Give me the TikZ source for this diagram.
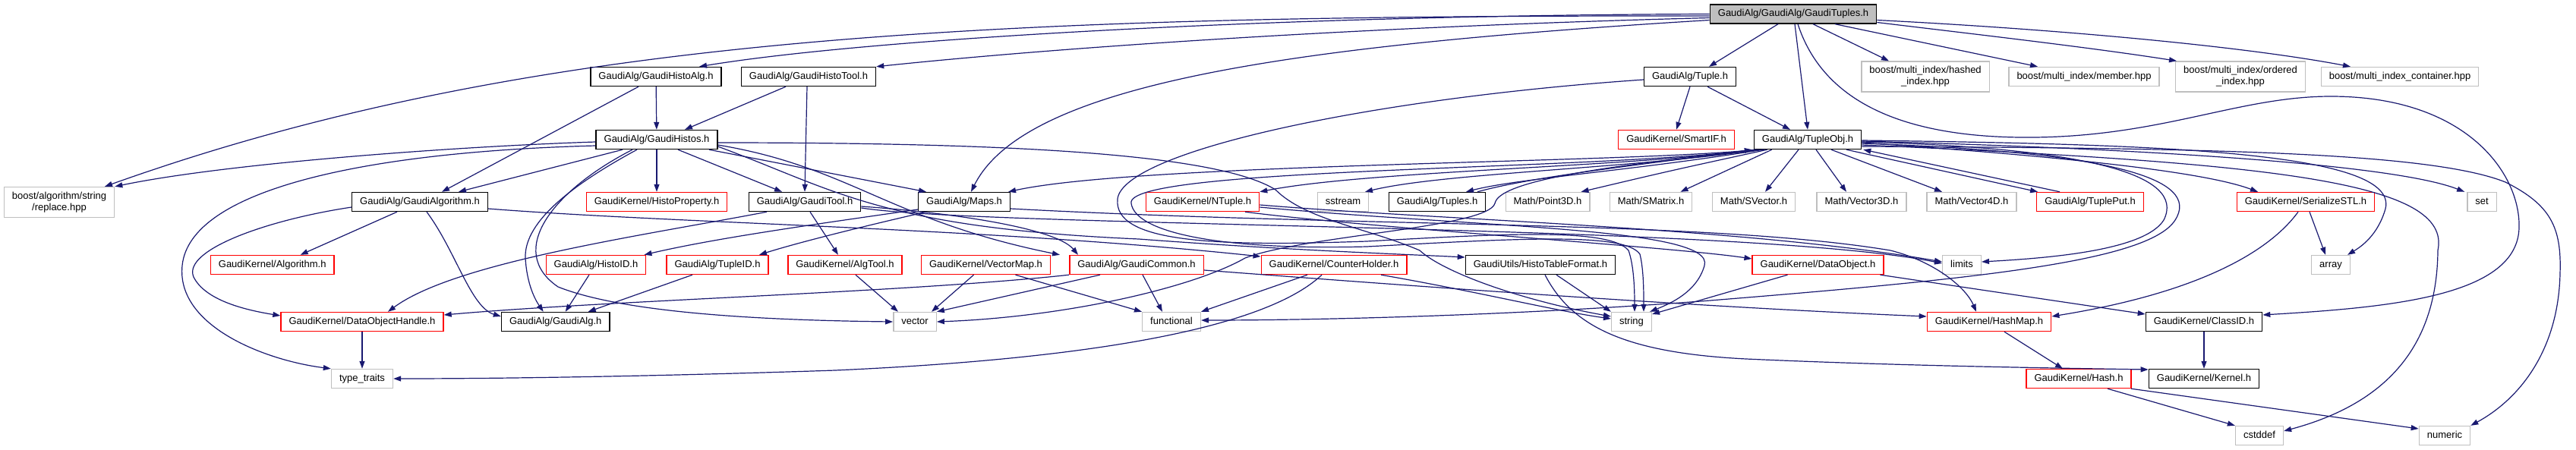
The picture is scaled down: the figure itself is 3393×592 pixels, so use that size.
\documentclass[tikz,border=0pt]{standalone}
\usepackage{fontspec}
\setmainfont{Liberation Sans}
\usetikzlibrary{arrows.meta}

\definecolor{depblue}{RGB}{25,25,112}
\definecolor{truncred}{RGB}{255,0,0}
\definecolor{sysgray}{RGB}{191,191,191}

\begin{document}
\begin{tikzpicture}[x=1pt, y=-1pt, >={Triangle[length=10pt,width=7pt]},
  hdr/.style={draw=black, line width=1.4pt, rectangle, minimum height=25pt, inner xsep=10.5pt, inner ysep=0pt,
    font=\fontsize{13}{15}\selectfont},
  file/.style={hdr, text height=9.4pt, text depth=2.8pt},
  file2/.style={hdr, align=center, minimum height=40pt},
  sys/.style={draw=sysgray},
  trunc/.style={draw=truncred},
  dep/.style={->, draw=depblue, line width=1.2pt}]

\useasboundingbox (0,0) rectangle (3393,592);

% headers
\node[file, fill=sysgray] (gauditup) at (2362,18.5) {GaudiAlg/GaudiAlg/GaudiTuples.h};

\node[file] (histoalg) at (864,101) {GaudiAlg/GaudiHistoAlg.h};
\node[file] (histotool) at (1065,101) {GaudiAlg/GaudiHistoTool.h};
\node[file] (tuple) at (2226,101) {GaudiAlg/Tuple.h};
\node[file2, sys] (hashed) at (2536,101) {boost/multi\_index/hashed\\\_index.hpp};
\node[file, sys] (member) at (2745,101) {boost/multi\_index/member.hpp};
\node[file2, sys] (ordered) at (2951,101) {boost/multi\_index/ordered\\\_index.hpp};
\node[file, sys] (container) at (3161,101) {boost/multi\_index\_container.hpp};

\node[file] (histos) at (865,184) {GaudiAlg/GaudiHistos.h};
\node[file, trunc] (smartif) at (2208,184) {GaudiKernel/SmartIF.h};
\node[file] (tupleobj) at (2381,184) {GaudiAlg/TupleObj.h};

\node[file2, sys] (replace) at (78,266.5) {boost/algorithm/string\\/replace.hpp};
\node[file] (gaudialgo) at (553,266) {GaudiAlg/GaudiAlgorithm.h};
\node[file, trunc] (histoprop) at (865,266) {GaudiKernel/HistoProperty.h};
\node[file] (gauditool) at (1060,266) {GaudiAlg/GaudiTool.h};
\node[file] (maps) at (1270,266) {GaudiAlg/Maps.h};
\node[file, trunc] (ntuple) at (1584,266) {GaudiKernel/NTuple.h};
\node[file, sys] (sstream) at (1769,266) {sstream};
\node[file] (tuples) at (1893,266) {GaudiAlg/Tuples.h};
\node[file, sys] (point3d) at (2038.5,266) {Math/Point3D.h};
\node[file, sys] (smatrix) at (2174.5,266) {Math/SMatrix.h};
\node[file, sys] (svector) at (2310,266) {Math/SVector.h};
\node[file, sys] (vector3d) at (2452,266) {Math/Vector3D.h};
\node[file, sys] (vector4d) at (2597,266) {Math/Vector4D.h};
\node[file, trunc] (tupleput) at (2753,266) {GaudiAlg/TuplePut.h};
\node[file, trunc] (serialize) at (3037,266) {GaudiKernel/SerializeSTL.h};
\node[file, sys] (stdset) at (3269,266) {set};

\node[file, trunc] (algorithm) at (358.7,349) {GaudiKernel/Algorithm.h};
\node[file, trunc] (histoid) at (785,349) {GaudiAlg/HistoID.h};
\node[file, trunc] (tupleid) at (945,349) {GaudiAlg/TupleID.h};
\node[file, trunc] (algtool) at (1113,349) {GaudiKernel/AlgTool.h};
\node[file, trunc] (vectormap) at (1298.5,349) {GaudiKernel/VectorMap.h};
\node[file, trunc] (common) at (1497,349) {GaudiAlg/GaudiCommon.h};
\node[file, trunc] (counter) at (1757,349) {GaudiKernel/CounterHolder.h};
\node[file] (tableformat) at (2029,349) {GaudiUtils/HistoTableFormat.h};
\node[file, trunc] (dataobject) at (2394.5,349) {GaudiKernel/DataObject.h};
\node[file, sys] (limits) at (2584,349) {limits};
\node[file, sys] (array) at (3070,349) {array};

\node[file, trunc] (handle) at (477,424) {GaudiKernel/DataObjectHandle.h};
\node[file] (gaudialg) at (731.7,424) {GaudiAlg/GaudiAlg.h};
\node[file, sys] (vector) at (1205,424) {vector};
\node[file, sys] (functional) at (1543,424) {functional};
\node[file, sys] (string) at (2149,424) {string};
\node[file, trunc] (hashmap) at (2620,424) {GaudiKernel/HashMap.h};
\node[file] (classid) at (2903,424) {GaudiKernel/ClassID.h};

\node[file, sys] (typetraits) at (477,499) {type\_traits};
\node[file, trunc] (hash) at (2738,499) {GaudiKernel/Hash.h};
\node[file] (kernel) at (2903,499) {GaudiKernel/Kernel.h};

\node[file, sys] (cstddef) at (2976,574) {cstddef};
\node[file, sys] (numeric) at (3220,574) {numeric};

% GaudiTuples.h
\draw[dep] ([yshift=-2.5pt]gauditup.west) .. controls (1300,20) and (700,45) .. ([xshift=60pt]replace.north);
\draw[dep] (gauditup.west) .. controls (1700,20) and (1150,50) .. ([xshift=57pt]histoalg.north);
\draw[dep] ([yshift=-5pt]gauditup.west) .. controls (1800,35) and (1400,62) .. (histotool.north east);
\draw[dep] ([yshift=-8pt]gauditup.west) .. controls (1700,60) and (1350,110) .. ([xshift=9pt]maps.north);
\draw[dep] ([xshift=-20pt]gauditup.south) -- ([xshift=25pt]tuple.north);
\draw[dep] ([xshift=2pt]gauditup.south) -- (tupleobj.north);
\draw[dep] ([xshift=26pt]gauditup.south) -- ([xshift=-48pt]hashed.north);
\draw[dep] ([xshift=55pt]gauditup.south) -- ([xshift=-61pt]member.north);
\draw[dep] ([yshift=-11pt]gauditup.east) .. controls (2600,45) and (2750,62) .. ([xshift=2pt]ordered.north west);
\draw[dep] ([yshift=-8pt]gauditup.east) .. controls (2700,38) and (2950,60) .. ([xshift=-65pt]container.north);
\draw[dep] ([xshift=6pt]gauditup.south) .. controls (2400,130) and (2500,183) .. (2680,181)
  .. controls (2850,179) and (2950,127) .. (3070,127) .. controls (3250,127) and (3320,230) .. (3318,300)
  .. controls (3316,390) and (3150,405) .. ([yshift=9pt]classid.east);

% histo algorithm and tool
\draw[dep] ([xshift=-23pt]histoalg.south) -- ([xshift=29pt]gaudialgo.north);
\draw[dep] (histoalg) -- (histos);
\draw[dep] ([xshift=-30pt]histotool.south) -- ([xshift=37pt]histos.north);
\draw[dep] ([xshift=-2pt]histotool.south) -- (gauditool.north);

% Tuple.h
\draw[dep] (tuple.south) -- (smartif.north);
\draw[dep] ([xshift=23pt]tuple.south) -- ([xshift=-23pt]tupleobj.north);
\draw[dep] ([yshift=-4pt]tuple.west) .. controls (1800,130) and (1480,200) .. (1472,262)
  .. controls (1466,320) and (1600,325) .. (1800,318) .. controls (1980,308) and (2120,300) .. (2145,330)
  .. controls (2152,350) and (2153,380) .. ([xshift=4pt]string.north);

% TupleObj.h
\draw[dep] ([xshift=3pt]tupleobj.south west) .. controls (2150,215) and (1500,215) .. ([xshift=-3pt]maps.north east);
\draw[dep] ([xshift=5pt]tupleobj.south west) .. controls (2150,220) and (1800,225) .. (ntuple.north east);
\draw[dep] ([xshift=8pt]tupleobj.south west) .. controls (2150,222) and (1900,228) .. ([xshift=29pt]sstream.north);
\draw[dep] ([xshift=12pt]tupleobj.south west) .. controls (2150,225) and (2000,235) .. ([xshift=38pt]tuples.north);
\draw[dep] ([xshift=53pt]tuples.north) .. controls (2020,232) and (2180,215) .. ([xshift=-2pt]tupleobj.south west);
\draw[dep] ([xshift=18pt]tupleobj.south west) .. controls (2200,225) .. ([xshift=44pt]point3d.north);
\draw[dep] ([xshift=24pt]tupleobj.south west) -- ([xshift=39pt]smatrix.north);
\draw[dep] ([xshift=-12pt]tupleobj.south) -- ([xshift=15pt]svector.north);
\draw[dep] ([xshift=11pt]tupleobj.south) -- ([xshift=-20pt]vector3d.north);
\draw[dep] ([xshift=31pt]tupleobj.south) -- ([xshift=-39pt]vector4d.north);
\draw[dep] ([xshift=51pt]tupleobj.south) -- ([xshift=2pt]tupleput.north west);
\draw[dep] ([xshift=-40pt]tupleput.north) -- ([xshift=2pt]tupleobj.south east);
\draw[dep] ([yshift=-4pt]tupleobj.east) .. controls (2700,205) and (2900,225) .. ([xshift=-63pt]serialize.north);
\draw[dep] ([yshift=-2pt]tupleobj.east) .. controls (2800,195) and (3150,215) .. ([xshift=-3pt]stdset.north west);
\draw[dep] ([yshift=-1pt]tupleobj.east) .. controls (2850,190) and (3160,200) .. (3142,275)
  .. controls (3132,310) and (3110,325) .. ([xshift=22pt]array.north);
\draw[dep] ([yshift=-3pt]tupleobj.east) .. controls (2750,195) and (2880,230) .. (2850,290)
  .. controls (2825,330) and (2700,340) .. ([yshift=4pt]limits.east);
\draw[dep] ([yshift=-5pt]tupleobj.east) .. controls (2780,200) and (2900,235) .. (2865,290)
  .. controls (2830,345) and (2600,368) .. (2240,397) .. controls (2000,415) and (1750,422) .. ([yshift=2pt]functional.east);
\draw[dep] ([yshift=-7pt]tupleobj.east) .. controls (3000,215) and (3230,240) .. (3211,330)
  .. controls (3210,450) and (3150,530) .. ([yshift=6pt]cstddef.east);
\draw[dep] ([yshift=-9pt]tupleobj.east) .. controls (2900,195) and (3200,200) .. (3300,240)
  .. controls (3360,270) and (3374,300) .. (3372,360) .. controls (3370,460) and (3320,525) .. (numeric.north east);
\draw[dep] ([xshift=2pt]tupleobj.south west) .. controls (2100,225) and (1480,220) .. (1490,268)
  .. controls (1495,305) and (1600,330) .. (1800,325) .. controls (1990,315) and (2140,305) .. (2160,335)
  .. controls (2165,355) and (2165,385) .. ([xshift=16pt]string.north);
\draw[dep] ([xshift=14pt]tupleobj.south west) .. controls (2150,215) and (1975,235) .. (1969,268)
  .. controls (1960,300) and (1720,310) .. (1640,340) .. controls (1570,380) and (1400,418) .. (vector.east);

% GaudiHistos.h
\draw[dep] ([yshift=-3pt]histos.west) .. controls (600,193) and (300,215) .. (replace.north east);
\draw[dep] ([xshift=-45pt]histos.south) -- ([xshift=51pt]gaudialgo.north);
\draw[dep] (histos) -- (histoprop);
\draw[dep] ([xshift=28pt]histos.south) -- ([xshift=-30pt]gauditool.north);
\draw[dep] ([xshift=69pt]histos.south) -- ([xshift=-50pt]maps.north);
\draw[dep] ([yshift=-8pt]histos.west) .. controls (480,200) and (250,250) .. (240,350)
  .. controls (232,430) and (350,475) .. (typetraits.north west);
\draw[dep] ([xshift=-26pt]histos.south) .. controls (760,240) and (690,290) .. (692,340)
  .. controls (694,375) and (705,395) .. ([xshift=-16pt]gaudialg.north);
\draw[dep] ([xshift=-32pt]histos.south) .. controls (730,250) and (665,330) .. (735,378)
  .. controls (820,412) and (1000,422) .. (vector.west);
\draw[dep] ([yshift=-4pt]histos.east) .. controls (1300,188) and (1600,200) .. (1680,250)
  .. controls (1720,290) and (1800,300) .. (1870,330) .. controls (1900,358) and (2000,395) .. ([yshift=7pt]string.west);
\draw[dep] ([yshift=-7pt]histos.east) .. controls (1120,220) and (1170,290) .. ([xshift=-101pt]common.north);
\draw[dep] ([yshift=-9pt]histos.east) .. controls (1100,250) and (1160,300) .. (1500,315)
  .. controls (1700,330) and (1850,335) .. ([yshift=10pt]tableformat.west);

% GaudiAlgorithm.h
\draw[dep] ([xshift=-30pt]gaudialgo.south) -- ([xshift=37pt]algorithm.north);
\draw[dep] ([yshift=-7pt]gaudialgo.west) .. controls (350,290) and (240,330) .. (255,365)
  .. controls (270,395) and (320,408) .. ([yshift=8pt]handle.west);
\draw[dep] ([xshift=9pt]gaudialgo.south) .. controls (600,330) and (620,405) .. ([yshift=7pt]gaudialg.west);
\draw[dep] ([yshift=-9pt]gaudialgo.east) .. controls (900,295) and (1300,300) .. ([yshift=11pt]counter.west);

% GaudiTool.h
\draw[dep] ([xshift=7pt]gauditool.south) -- ([xshift=-9pt]algtool.north);
\draw[dep] ([xshift=-50pt]gauditool.south) .. controls (850,310) and (600,345) .. ([xshift=34pt]handle.north);
\draw[dep] ([yshift=-6pt]gauditool.east) .. controls (1250,280) and (1390,300) .. ([xshift=-77pt]common.north);
\draw[dep] ([yshift=-8pt]gauditool.east) .. controls (1300,300) and (2300,295) .. ([yshift=2pt]limits.west);

% Maps.h
\draw[dep] ([yshift=-10pt]maps.west) .. controls (1100,292) and (950,312) .. ([xshift=-3pt]histoid.north east);
\draw[dep] ([xshift=-50pt]maps.south) .. controls (1130,300) and (1050,320) .. ([xshift=55pt]tupleid.north);
\draw[dep] ([yshift=-9pt]maps.east) .. controls (1800,300) and (2250,290) .. (2490,330)
  .. controls (2550,345) and (2590,380) .. ([xshift=-17pt]hashmap.north);

% NTuple.h
\draw[dep] ([xshift=56pt]ntuple.south) .. controls (1800,300) and (2200,325) .. ([yshift=8pt]dataobject.west);
\draw[dep] ([yshift=-4pt]ntuple.east) .. controls (1900,290) and (2300,300) .. ([yshift=4pt]limits.west);
\draw[dep] ([yshift=-7pt]ntuple.east) .. controls (1950,300) and (2260,300) .. (2245,350)
  .. controls (2235,385) and (2200,400) .. ([xshift=-3pt]string.north east);

% GaudiCommon.h
\draw[dep] ([xshift=8pt]common.south) -- ([xshift=-12pt]functional.north);
\draw[dep] ([xshift=-48pt]common.south) -- (vector.north east);
\draw[dep] (common.south west) .. controls (1200,385) and (800,396) .. ([yshift=9pt]handle.east);
\draw[dep] ([yshift=-7pt]common.east) .. controls (1900,380) and (2250,405) .. ([yshift=7pt]hashmap.west);

% small headers
\draw[dep] ([xshift=-16pt]vectormap.south) -- ([xshift=22pt]vector.north);
\draw[dep] ([xshift=39pt]vectormap.south) -- (functional.north west);
\draw[dep] ([xshift=14pt]algtool.south) -- ([xshift=-22pt]vector.north);
\draw[dep] ([xshift=-9pt]histoid.south) -- ([xshift=13pt]gaudialg.north);
\draw[dep] ([xshift=-33pt]tupleid.south) -- ([xshift=43pt]gaudialg.north);
\draw[dep] ([xshift=-35pt]counter.south) -- (functional.north east);
\draw[dep] ([xshift=-16pt]counter.south) .. controls (1680,420) and (1500,470) .. (1100,488)
  .. controls (800,498) and (600,499) .. (typetraits.east);
\draw[dep] ([xshift=62pt]counter.south) .. controls (1950,385) and (2050,410) .. ([yshift=4pt]string.west);
\draw[dep] ([xshift=21pt]tableformat.south) -- (string.north west);
\draw[dep] ([xshift=6pt]tableformat.south) .. controls (2070,430) and (2140,465) .. (2300,473)
  .. controls (2500,482) and (2700,485) .. ([yshift=12pt]kernel.west);
\draw[dep] ([xshift=-40pt]dataobject.south) -- ([yshift=10pt]string.east);
\draw[dep] ([xshift=82pt]dataobject.south) -- ([yshift=10pt]classid.west);
\draw[dep] ([xshift=-10pt]serialize.south) .. controls (2990,330) and (2900,385) .. ([yshift=7pt]hashmap.east);
\draw[dep] ([xshift=5pt]serialize.south) -- ([xshift=-7pt]array.north);
\draw[dep] ([xshift=20pt]hashmap.south) -- ([xshift=-21pt]hash.north);
\draw[dep] ([xshift=38pt]hash.south) -- (cstddef.north west);
\draw[dep] ([xshift=69pt]hash.south) -- ([yshift=9pt]numeric.west);
\draw[dep] (classid) -- (kernel);
\draw[dep] (handle) -- (typetraits);

\end{tikzpicture}
\end{document}
